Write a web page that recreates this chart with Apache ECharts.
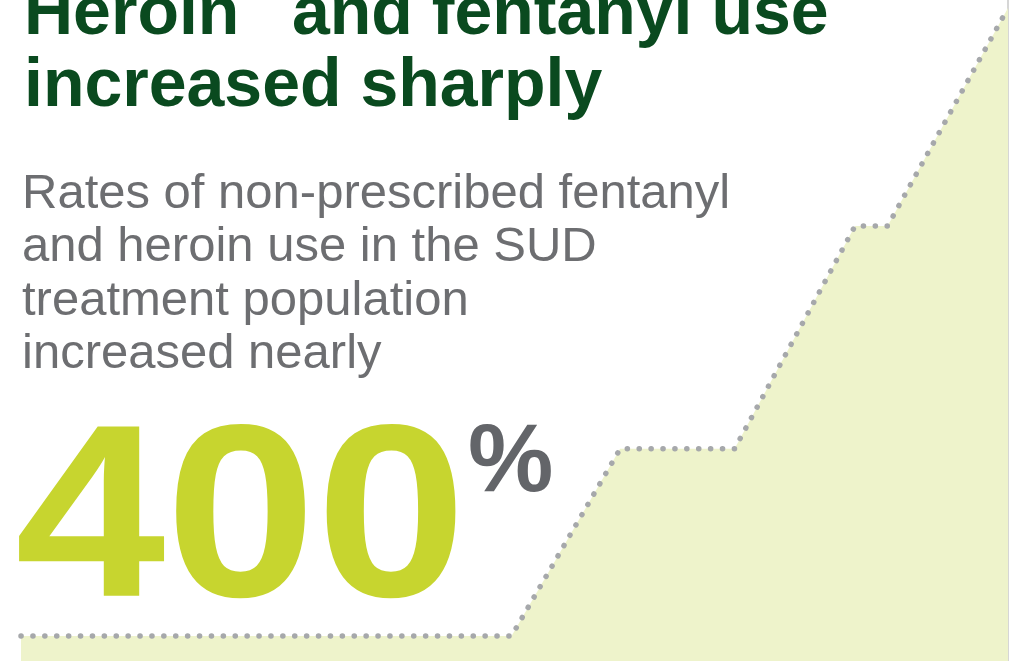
<!DOCTYPE html>
<html>
<head>
    <meta charset="UTF-8">
    <title>Heroin and fentanyl use increased sharply</title>
    <script src="https://cdn.jsdelivr.net/npm/echarts@6/dist/echarts.min.js"></script>
    <style>
        html, body { margin: 0; padding: 0; background: #fff; }
        #main { width: 1023px; height: 661px; }
    </style>
</head>
<body>
<div id="main"></div>
<script type="text/javascript">
    // step line positions (share of the width) and relative use level
    var stepX = [0, 49.7, 60.7, 72.3, 84.5, 87.8, 100];
    var useLevel = [3.8, 3.8, 32.1, 32.1, 65.8, 65.8, 98.8];

    var titleLines = ['Heroin', 'and fentanyl use', 'increased sharply'];
    var subText = 'Rates of non-prescribed fentanyl\nand heroin use in the SUD\ntreatment population\nincreased nearly';
    var bigNumber = '400';

    var points = stepX.map(function (x, i) {
        return [x, useLevel[i]];
    });

    var myChart = echarts.init(document.getElementById('main'));

    var titleFont = 'bold 68px "Liberation Sans", Arial, sans-serif';

    var option = {
        animation: false,
        backgroundColor: '#ffffff',
        grid: {
            left: 21,
            right: 15,
            top: 0,
            bottom: 0
        },
        xAxis: {
            type: 'value',
            min: 0,
            max: 100,
            show: false
        },
        yAxis: {
            type: 'value',
            min: 0,
            max: 100,
            position: 'right',
            axisLine: { show: true, onZero: false, lineStyle: { color: '#d6d6d6', width: 2 } },
            axisTick: { show: false },
            axisLabel: { show: false },
            splitLine: { show: false }
        },
        series: [
            {
                type: 'line',
                data: points,
                symbol: 'none',
                silent: true,
                lineStyle: {
                    color: '#a6a8ab',
                    width: 5.5,
                    type: [0.1, 11.8],
                    cap: 'round'
                },
                areaStyle: {
                    color: '#eef3cb',
                    opacity: 1,
                    origin: 'start'
                },
                z: 1
            }
        ],
        graphic: [
            {
                type: 'text', z: 10,
                x: 24, y: 15,
                style: { text: titleLines[0], fill: '#0a4a1f', font: titleFont, verticalAlign: 'middle' }
            },
            {
                type: 'text', z: 10,
                x: 292, y: 15,
                style: { text: titleLines[1], fill: '#0a4a1f', font: titleFont, verticalAlign: 'middle' }
            },
            {
                type: 'text', z: 10,
                x: 24, y: 87,
                style: { text: titleLines[2], fill: '#0a4a1f', font: titleFont, verticalAlign: 'middle' }
            },
            {
                type: 'text', z: 10,
                x: 22, y: 168,
                style: {
                    text: subText, fill: '#6d6e71',
                    font: '49px "Liberation Sans", Arial, sans-serif',
                    lineHeight: 53.3,
                    verticalAlign: 'top'
                }
            },
            {
                type: 'text', z: 10,
                x: 15, y: 528, scaleX: 1.1,
                style: {
                    text: bigNumber, fill: '#c7d52f',
                    font: 'bold 246px "Liberation Sans", Arial, sans-serif',
                    verticalAlign: 'middle'
                }
            },
            {
                type: 'text', z: 10,
                x: 468, y: 465,
                style: {
                    text: '%', fill: '#636569',
                    font: 'bold 96px "Liberation Sans", Arial, sans-serif',
                    verticalAlign: 'middle'
                }
            }
        ]
    };

    myChart.setOption(option);
</script>
</body>
</html>
